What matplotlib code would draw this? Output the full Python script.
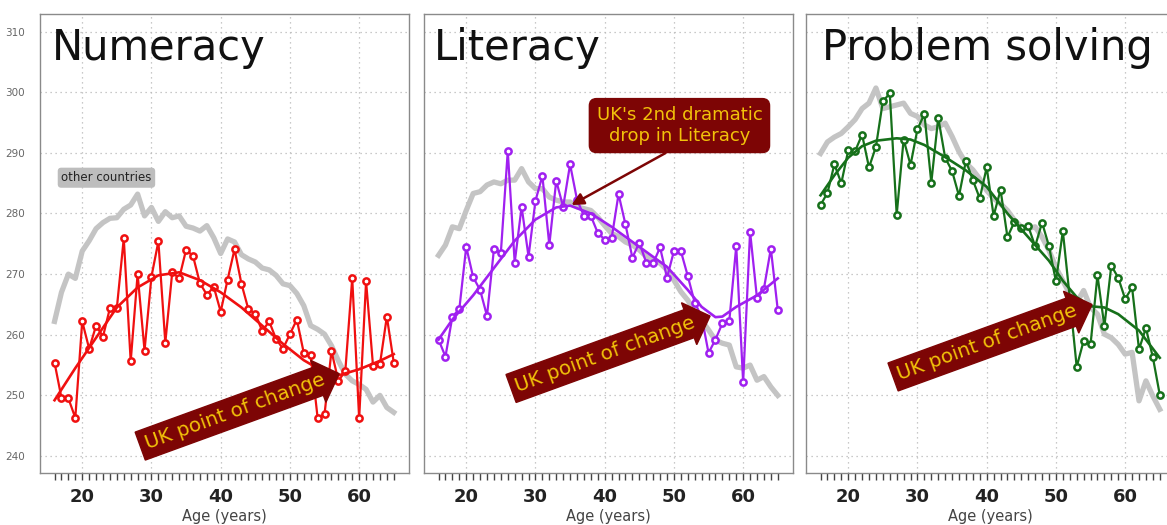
import matplotlib
matplotlib.use("Agg")
import matplotlib.pyplot as plt

ages = list(range(16, 66))

# ---- Numeracy ----
num_uk = [255.4, 249.6, 249.5, 246.3, 262.2, 257.7, 261.5, 259.7, 264.4, 264.4,
          275.9, 255.6, 270.0, 257.4, 269.6, 275.4, 258.7, 270.3, 269.3, 274.0,
          273.0, 268.5, 266.6, 267.9, 263.8, 269.1, 274.1, 268.4, 264.2, 263.5,
          260.6, 262.2, 259.3, 257.7, 260.1, 262.5, 257.0, 256.6, 246.3, 246.9,
          257.3, 252.4, 254.0, 269.3, 246.2, 268.8, 254.9, 255.1, 263.0, 255.4]
num_other = [262.2, 267.0, 270.0, 269.3, 273.8, 275.5, 277.5, 278.5, 279.2, 279.3,
             280.7, 281.4, 283.2, 279.6, 281.0, 278.7, 280.3, 279.3, 279.6, 277.9,
             277.6, 277.1, 278.0, 276.0, 273.4, 275.8, 275.3, 273.2, 272.5, 272.0,
             271.0, 270.7, 269.8, 268.4, 268.1, 266.8, 264.8, 261.5, 260.9, 260.1,
             258.2, 255.7, 253.5, 252.4, 251.8, 251.0, 248.9, 250.0, 248.0, 247.2]
num_smooth_age = [16, 19, 22, 25, 28, 31, 34, 37, 40, 43, 46, 49, 52, 55, 57, 60, 63, 65]
num_smooth = [249.2, 254.5, 259.5, 264.5, 267.8, 269.8, 270.3, 269.0, 267.0, 264.5,
              261.5, 258.5, 255.8, 253.8, 253.3, 254.3, 255.7, 256.8]

# ---- Literacy ----
lit_uk = [259.2, 256.4, 263.0, 264.2, 274.5, 269.5, 267.4, 263.1, 274.1, 273.5,
          290.3, 271.9, 281.1, 272.9, 282.1, 286.2, 274.8, 285.4, 281.1, 288.1,
          282.3, 279.6, 279.6, 276.8, 275.7, 275.9, 283.2, 278.2, 272.7, 275.2,
          271.9, 271.8, 274.4, 269.4, 273.8, 273.8, 269.7, 265.3, 263.0, 257.0,
          259.2, 261.9, 262.3, 274.6, 252.2, 277.0, 266.0, 267.6, 274.2, 264.1]
lit_other = [273.1, 274.8, 277.8, 277.5, 280.5, 283.3, 283.6, 284.7, 285.2, 284.9,
             285.5, 285.5, 287.4, 285.2, 284.1, 284.1, 282.7, 282.2, 281.9, 281.9,
             281.1, 280.8, 280.5, 279.4, 278.0, 276.7, 276.2, 275.3, 274.8, 274.0,
             272.9, 272.3, 271.8, 270.7, 269.0, 267.1, 265.7, 263.8, 262.4, 260.8,
             259.1, 258.6, 258.3, 254.7, 254.5, 255.0, 252.5, 253.1, 251.4, 250.0]
lit_smooth_age = [16, 18, 21, 24, 27, 30, 33, 35, 38, 41, 45, 49, 52, 54, 56, 57, 59, 62, 65]
lit_smooth = [259.2, 262.5, 266.5, 271.0, 275.5, 279.0, 281.0, 281.3, 280.0, 277.8,
              274.5, 271.2, 267.4, 264.6, 262.9, 263.0, 264.6, 266.5, 269.3]

# ---- Problem solving ----
ps_uk = [281.4, 283.4, 288.1, 285.0, 290.4, 290.3, 293.0, 287.6, 291.0, 298.5,
         299.8, 279.8, 292.2, 288.0, 293.9, 296.4, 285.1, 295.8, 289.2, 287.0,
         282.9, 288.7, 285.5, 282.5, 287.6, 279.6, 283.9, 276.1, 278.6, 277.6,
         277.9, 274.6, 278.5, 274.6, 268.8, 277.1, 266.1, 254.7, 259.0, 258.4,
         269.8, 261.4, 271.4, 269.4, 265.9, 267.8, 257.6, 261.1, 256.3, 250.1]
ps_other = [289.9, 291.8, 292.6, 293.2, 294.3, 295.5, 297.3, 298.2, 300.7, 297.3,
            297.6, 297.9, 298.2, 296.5, 296.0, 294.6, 294.0, 294.3, 294.9, 292.7,
            290.2, 288.3, 287.2, 285.7, 283.8, 282.5, 281.6, 280.5, 278.9, 277.8,
            277.5, 277.8, 276.1, 273.9, 271.1, 268.9, 266.7, 265.3, 267.3, 264.5,
            263.4, 260.1, 259.5, 258.4, 256.8, 257.1, 249.1, 252.4, 249.9, 247.7]
ps_smooth_age = [16, 18, 20, 22, 24, 27, 29, 31, 34, 37, 40, 43, 46, 49, 51, 53, 55, 57, 59, 62, 65]
ps_smooth = [283.0, 286.3, 289.2, 291.1, 292.0, 292.4, 292.2, 291.3, 289.3, 287.1,
             284.4, 280.0, 276.1, 272.2, 268.9, 266.2, 264.7, 264.5, 263.4, 260.7, 256.2]

titles = ["Numeracy", "Literacy", "Problem solving"]
colors = ["#f01010", "#a020f0", "#16701a"]
x_ticks = [20, 30, 40, 50, 60]
y_ticks = [240, 250, 260, 270, 280, 290, 300, 310]

DARKRED = "#7d0505"
GOLD = "#f2c20a"
GREY = "#c4c4c4"

W, H = 1167, 525
fig = plt.figure(figsize=(W / 100, H / 100), dpi=100)
fig.patch.set_facecolor("white")

lefts_px = [40, 424, 806]
top_px, bottom_px, width_px = 14, 473, 369

panels = [
    (num_uk, num_other, num_smooth_age, num_smooth),
    (lit_uk, lit_other, lit_smooth_age, lit_smooth),
    (ps_uk, ps_other, ps_smooth_age, ps_smooth),
]
arrow_pos = [(42.0, 247.3), (40.1, 256.8), (40.1, 258.7)]
title_x = [0.033, 0.027, 0.043]

axes = []
for i, (uk, other, sage, sval) in enumerate(panels):
    ax = fig.add_axes([lefts_px[i] / W, 1 - bottom_px / H, width_px / W,
                       (bottom_px - top_px) / H])
    axes.append(ax)
    ax.set_xlim(13.9, 67.2)
    ax.set_ylim(237.2, 312.9)
    for sp in ax.spines.values():
        sp.set_color("#8a8a8a")
        sp.set_linewidth(1.0)
    ax.set_xticks(x_ticks)
    ax.set_xticks(ages, minor=True)
    ax.set_yticks(y_ticks)
    ax.grid(True, which="major", linestyle=(0, (1, 3)), color="#b8b8b8", linewidth=0.9)
    ax.tick_params(axis="x", which="both", direction="out", length=5, width=1,
                   color="#444444", pad=6)
    ax.tick_params(axis="x", which="major", labelsize=13, labelcolor="#222222")
    for lab in ax.get_xticklabels():
        lab.set_fontweight("bold")
    ax.tick_params(axis="y", length=0, pad=11, labelsize=7.5, labelcolor="#666666")
    if i > 0:
        ax.tick_params(axis="y", labelleft=False)
    ax.set_xlabel("Age (years)", fontsize=10.5, color="#444444", labelpad=2)

    ax.plot(ages, other, color=GREY, lw=3.8, solid_joinstyle="round", zorder=2)
    ax.plot(ages, uk, color=colors[i], lw=1.6, marker="o", ms=4.5,
            mfc="#ffffff", mec=colors[i], mew=1.8, zorder=3)
    ax.plot(sage, sval, color=colors[i], lw=1.9, zorder=4)

    ax.text(title_x[i], 0.90, titles[i], transform=ax.transAxes, fontsize=30,
            color="#111111", ha="left", va="baseline")

    ax.text(arrow_pos[i][0], arrow_pos[i][1], "UK point of change", fontsize=14.3,
            color=GOLD, rotation=20, ha="center", va="center", zorder=6,
            rotation_mode="anchor",
            bbox=dict(boxstyle="rarrow,pad=0.27", fc=DARKRED, ec=DARKRED))

axes[0].text(23.5, 285.9, "other countries", fontsize=8.5, color="#222222",
             ha="center", va="center", zorder=6,
             bbox=dict(boxstyle="round,pad=0.3", fc="#bdbdbd", ec="none"))

axes[1].annotate("UK's 2nd dramatic\ndrop in Literacy", xy=(35.2, 281.4),
                 xytext=(50.8, 294.5), fontsize=13, color=GOLD,
                 ha="center", va="center", zorder=7, linespacing=1.25,
                 bbox=dict(boxstyle="round,pad=0.4", fc=DARKRED, ec=DARKRED),
                 arrowprops=dict(arrowstyle="-|>", color=DARKRED, lw=1.8,
                                 mutation_scale=18, relpos=(0.5, 0.0),
                                 shrinkA=0, shrinkB=0))

fig.savefig("out.png", dpi=100)
